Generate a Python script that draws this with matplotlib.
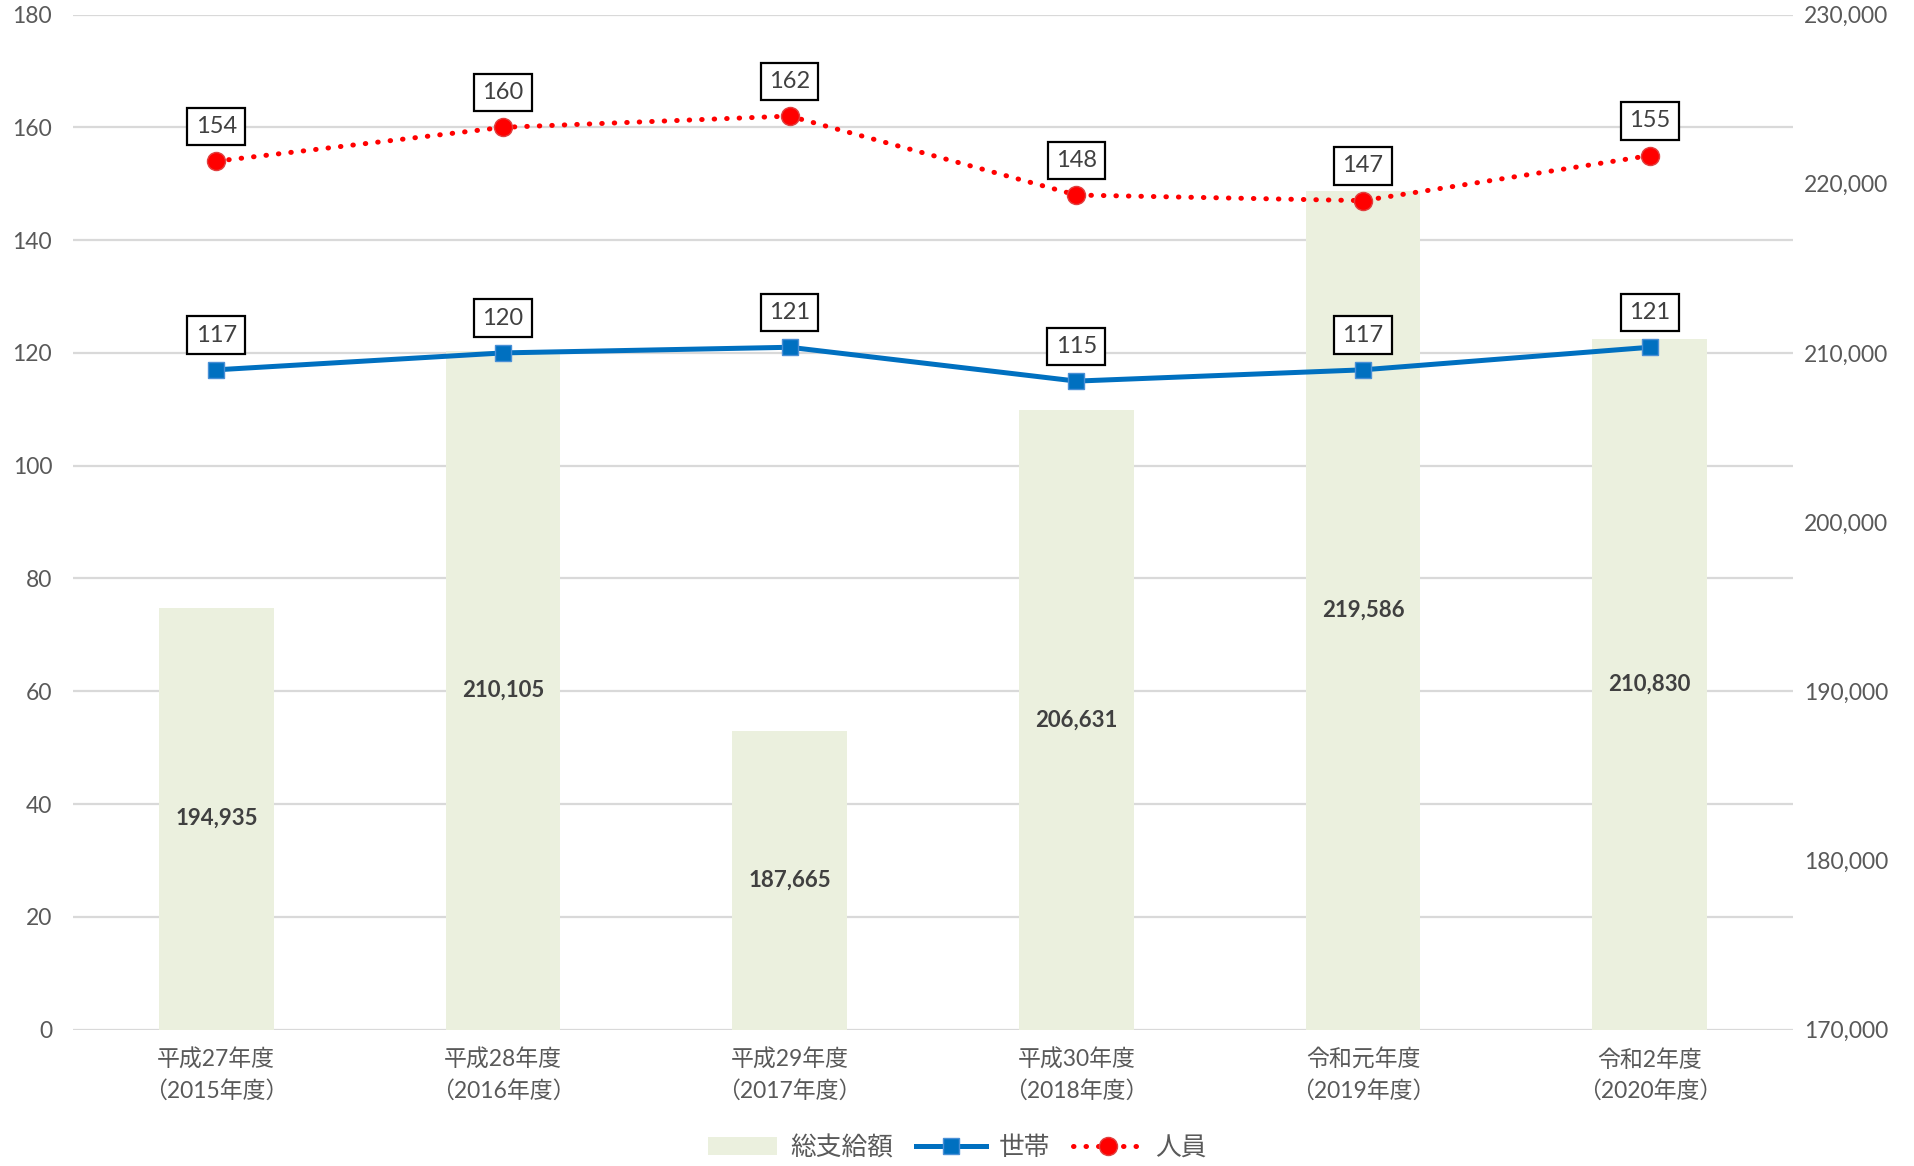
import matplotlib
matplotlib.use('Agg')
import matplotlib.pyplot as plt
from matplotlib.patches import Patch
from matplotlib.lines import Line2D

plt.rcParams['font.family'] = ['Lato', 'Noto Sans CJK JP', 'DejaVu Sans']

years = ['平成27年度\n（2015年度）', '平成28年度\n（2016年度）', '平成29年度\n（2017年度）',
         '平成30年度\n（2018年度）', '令和元年度\n（2019年度）', '令和2年度\n（2020年度）']
total_pay = [194935, 210105, 187665, 206631, 219586, 210830]   # 総支給額 (right axis)
households = [117, 120, 121, 115, 117, 121]                     # 世帯
persons = [154, 160, 162, 148, 147, 155]                        # 人員

left_ticks = list(range(0, 181, 20))
right_ticks = list(range(170000, 230001, 10000))

GRAY = '#595959'
BAR_C = '#EBF0DE'
BLUE = '#0070C0'
RED = '#FF0000'

fig = plt.figure(figsize=(19.15, 11.66), dpi=100)
ax = fig.add_axes([0.0381, 0.117, 0.8982, 0.8705])   # bars, right scale
ax2 = ax.twinx()                                      # lines, left scale
ax2.yaxis.tick_left()
ax.yaxis.tick_right()

x = list(range(len(years)))

# gridlines belong to the left scale but must sit under the bars
for v in left_ticks:
    ax.axhline(170000 + v * 60000 / 180, color='#D9D9D9', lw=1.6, zorder=0)

bars = ax.bar(x, [v - 170000 for v in total_pay], bottom=170000, width=0.4, color=BAR_C, zorder=2)
for xi, v in zip(x, total_pay):
    ax.text(xi, (170000 + v) / 2, f'{v:,}', ha='center', va='center', fontsize=16,
            fontweight='bold', color='#404040', zorder=3)

ax.set_ylim(170000, 230000)
ax.set_yticks(right_ticks)
ax.set_yticklabels([f'{v:,}' for v in right_ticks])
ax.set_xlim(-0.5, len(years) - 0.5)
ax.set_xticks(x)
ax.set_xticklabels(years, fontsize=16.5, color=GRAY, linespacing=1.5)

ax2.plot(x, households, color=BLUE, lw=3.6, marker='s', ms=12, mfc=BLUE, mec='#4A8FD6', mew=1, zorder=3)
ax2.plot(x, persons, color=RED, lw=3.6, linestyle=(0, (0.1, 2.4)), dash_capstyle='round',
         marker='o', ms=13, mfc=RED, mec='#E04040', mew=1, zorder=3)

box = dict(boxstyle='square,pad=0.35', fc='white', ec='black', lw=1.6)
for xi, v in zip(x, households):
    ax2.annotate(str(v), (xi, v), xytext=(0, 25), textcoords='offset points', ha='center', va='center',
                 fontsize=17, color='#404040', bbox=box)
for xi, v in zip(x, persons):
    ax2.annotate(str(v), (xi, v), xytext=(0, 25), textcoords='offset points', ha='center', va='center',
                 fontsize=17, color='#404040', bbox=box)

ax2.set_ylim(0, 180)
ax2.set_yticks(left_ticks)

for a in (ax, ax2):
    for s in a.spines.values():
        s.set_visible(False)
    a.tick_params(axis='both', length=0, labelsize=16.5, labelcolor=GRAY)
ax.tick_params(axis='x', pad=14)
ax.tick_params(axis='y', pad=8)
ax2.tick_params(axis='y', pad=15)

handles = [Patch(facecolor=BAR_C, edgecolor='none'),
           Line2D([], [], color=BLUE, lw=3.6, marker='s', ms=12, mfc=BLUE, mec='#4A8FD6'),
           Line2D([], [], color=RED, lw=3.6, linestyle=(0, (0.1, 2.4)), dash_capstyle='round',
                  marker='o', ms=13, mfc=RED, mec='#E04040')]
fig.legend(handles, ['総支給額', '世帯', '人員'], loc='center', bbox_to_anchor=(0.5, 0.0155),
           ncol=3, frameon=False, fontsize=18.5, labelcolor=GRAY, handlelength=2.7,
           columnspacing=0.9, handletextpad=0.5)

fig.savefig('out.png', dpi=100)
